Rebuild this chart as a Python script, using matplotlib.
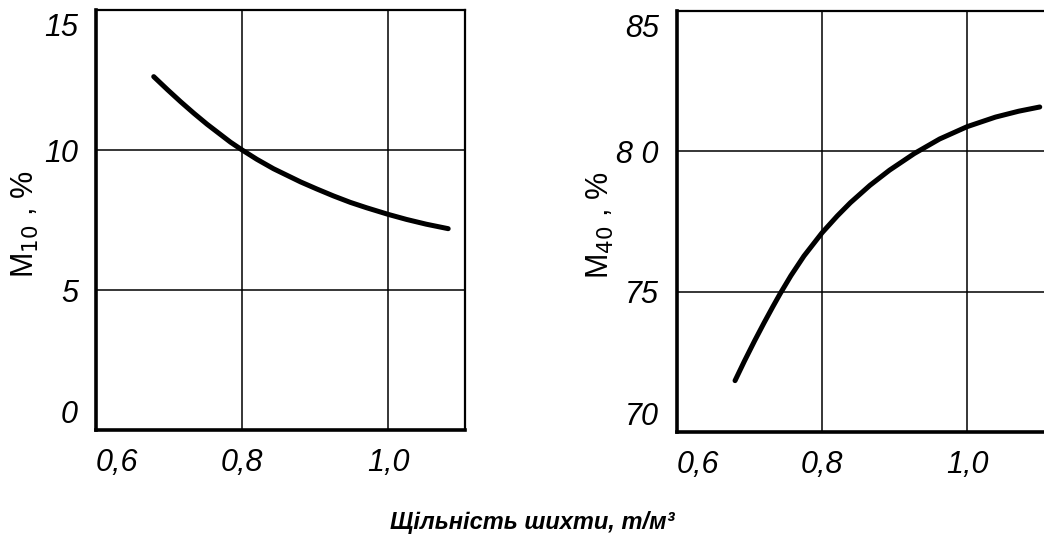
import matplotlib.pyplot as plt
from matplotlib.transforms import ScaledTranslation

# дані
density_m10 = [0.679, 0.698, 0.716, 0.734, 0.752, 0.770, 0.784, 0.800, 0.820, 0.843,
               0.880, 0.902, 0.925, 0.948, 0.970, 1.000, 1.025, 1.052, 1.082]
m10 = [12.62, 12.15, 11.72, 11.31, 10.92, 10.56, 10.28, 10.0, 9.67, 9.33,
       8.86, 8.61, 8.36, 8.13, 7.94, 7.70, 7.52, 7.35, 7.19]

density_m40 = [0.680, 0.693, 0.707, 0.720, 0.732, 0.742, 0.757, 0.775, 0.800, 0.821,
               0.839, 0.866, 0.893, 0.927, 0.962, 1.000, 1.039, 1.071, 1.100]
m40 = [71.83, 72.53, 73.25, 73.89, 74.46, 74.92, 75.57, 76.27, 77.10, 77.70,
       78.17, 78.79, 79.33, 79.92, 80.44, 80.88, 81.22, 81.43, 81.58]

xticks = [0.6, 0.8, 1.0]
xtick_labels = ['0,6', '0,8', '1,0']
yticks_left = [0, 5, 10, 15]
yticks_right = [70, 75, 80, 85]
yticklabels_left = ['0', '5', '10', '15']
yticklabels_right = ['70', '75', '8 0', '85']

tick_font = ['Liberation Sans', 'DejaVu Sans']

fig = plt.figure(figsize=(10.44, 5.35), dpi=100)
ax1 = fig.add_axes([96 / 1044, 1 - 430 / 535, (465 - 96) / 1044, 420 / 535])
ax2 = fig.add_axes([677 / 1044, 1 - 432 / 535, (1047 - 677) / 1044, 421 / 535])


def style(ax, x, y, yticks, yticklabels, ylim, xmax, ylabel, label_x):
    ax.plot(x, y, color='black', lw=3.6, solid_capstyle='round', solid_joinstyle='round')
    ax.set_xlim(0.6, xmax)
    ax.set_ylim(*ylim)
    ax.set_xticks(xticks)
    ax.set_xticklabels(xtick_labels, fontsize=22, style='italic', family=tick_font)
    ax.set_yticks(yticks)
    ax.set_yticklabels(yticklabels, fontsize=22, style='italic', family=tick_font)
    ax.tick_params(axis='x', length=0, pad=13)
    ax.tick_params(axis='y', length=0, pad=13)
    labels = ax.get_xticklabels()
    labels[0].set_ha('left')
    ylabs = ax.get_yticklabels()
    ylabs[0].set_va('bottom')
    ylabs[-1].set_va('top')
    ylabs[-1].set_transform(ylabs[-1].get_transform() + ScaledTranslation(0, -0.03, fig.dpi_scale_trans))
    ax.grid(True, color='black', lw=1.1)
    for side in ['left', 'bottom']:
        ax.spines[side].set_linewidth(2.6)
    for side in ['top', 'right']:
        ax.spines[side].set_linewidth(1.6)
    ax.set_ylabel(ylabel, fontsize=22, family=tick_font)
    ax.yaxis.set_label_coords(label_x, 0.49)


style(ax1, density_m10, m10, yticks_left, yticklabels_left, (0, 15), 1.105,
      'M$_{10}$ , %', -0.148)
style(ax2, density_m40, m40, yticks_right, yticklabels_right, (70, 85), 1.11,
      'M$_{40}$ , %', -0.164)

fig.text(532 / 1044, 1 - 523 / 535, 'Щільність шихти, т/м³', ha='center', va='center',
         fontsize=17, weight='bold', style='italic', family=['Liberation Sans', 'DejaVu Sans'])

fig.savefig('out.png', dpi=100)
